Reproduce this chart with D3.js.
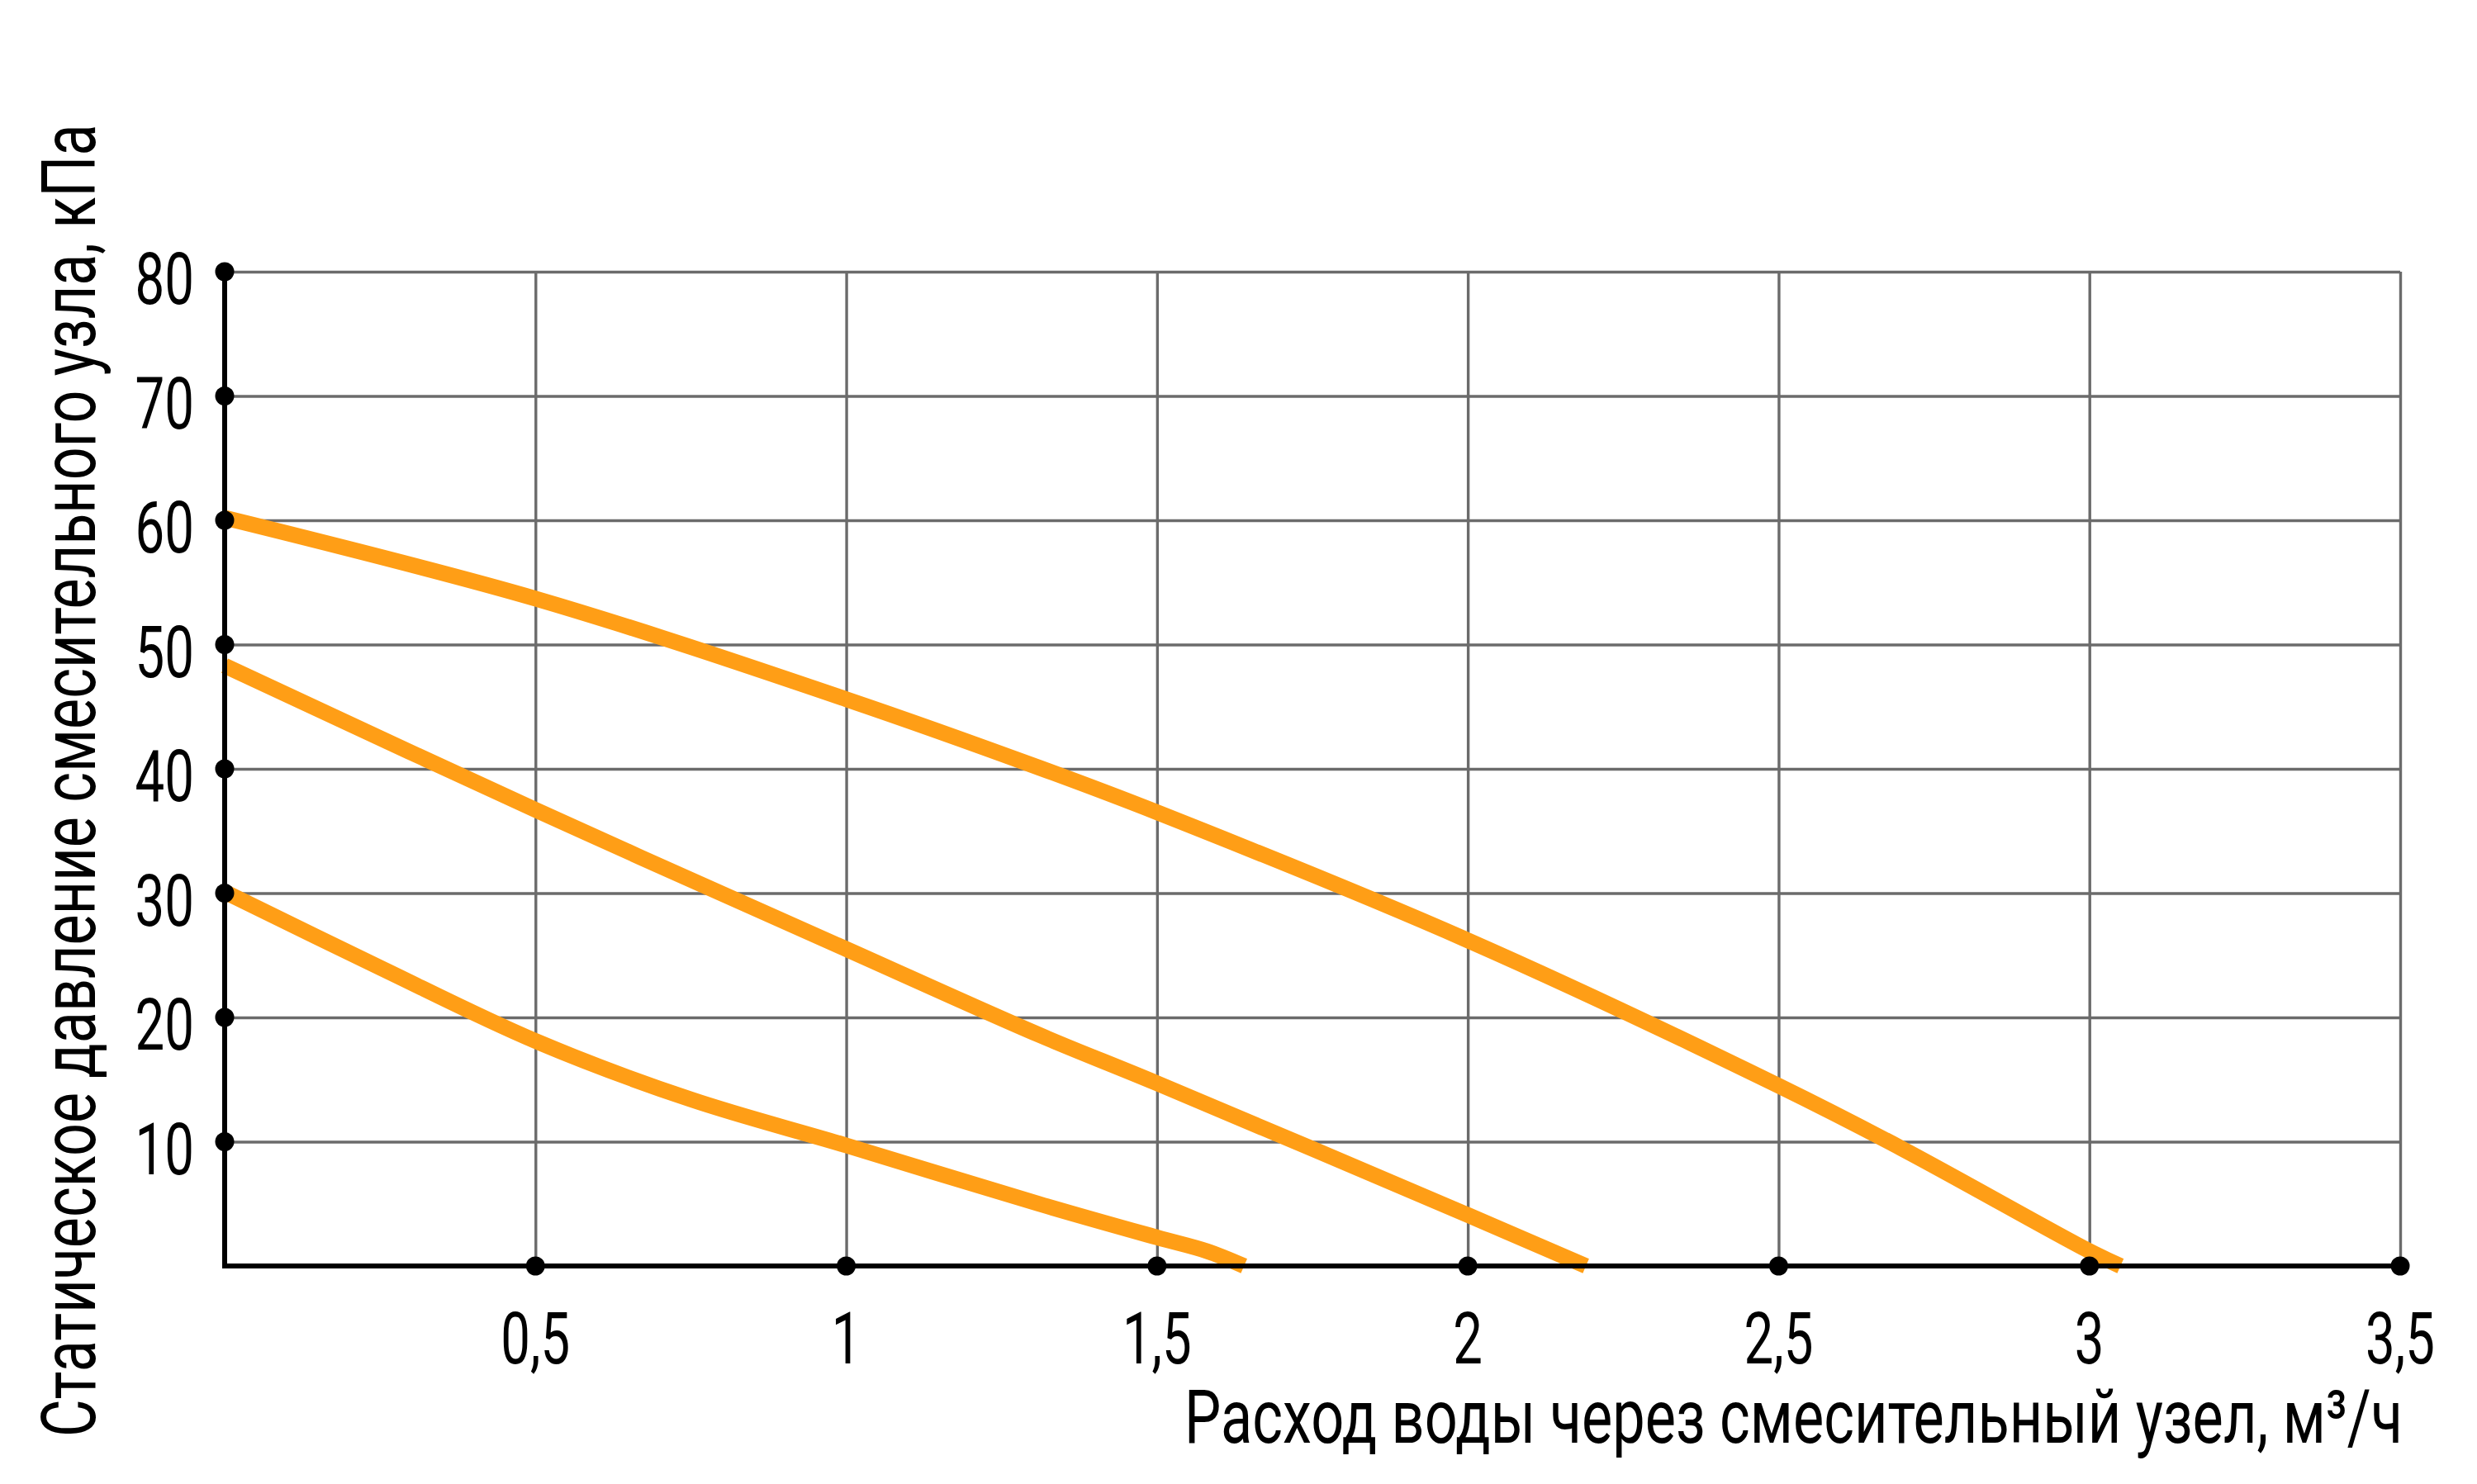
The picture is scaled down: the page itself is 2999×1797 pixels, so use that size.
<!DOCTYPE html>
<html>
<head>
<meta charset="utf-8">
<script src="https://cdn.jsdelivr.net/npm/d3@7"></script>
<style>
  body { margin: 0; background: #fff; }
  svg { display: block; }
</style>
</head>
<body>
<div id="chart"></div>
<script>
// values
const xTicks = [0.5, 1, 1.5, 2, 2.5, 3, 3.5];
const yTicks = [10, 20, 30, 40, 50, 60, 70, 80];
const xTickLabels = ["0,5", "1", "1,5", "2", "2,5", "3", "3,5"];
const yTickLabels = ["10", "20", "30", "40", "50", "60", "70", "80"];

const curveHigh = [[0, 60.2], [0.5, 53.7], [1, 45.6], [1.31, 40.1], [1.5, 36.5], [2, 26.2], [2.5, 14.5], [2.7, 9.4], [3, 1.2], [3.05, 0]];
const curveMid = [[0, 48.3], [0.5, 36.7], [1, 25.5], [1.31, 18.6], [1.5, 14.7], [2, 4.1], [2.19, 0]];
const curveLow = [[0, 30.1], [0.25, 24.0], [0.5, 18.1], [0.75, 13.4], [1, 9.7], [1.31, 5.0], [1.5, 2.3], [1.58, 1.2], [1.64, 0]];

const xTitle = "Расход воды через смесительный узел, м³/ч";
const yTitle = "Статическое давление смесительного узла, кПа";

const drawChart = () => {
    const width = 2999;
    const height = 1797;
    const margin = { top: 329, right: 93, bottom: 264, left: 272 };
    const innerWidth = width - margin.left - margin.right;
    const innerHeight = height - margin.top - margin.bottom;

    const orange = "#FF9E16";
    const gridGrey = "#6b6b6b";
    const font = "Roboto, 'Liberation Sans', sans-serif";
    const squeeze = 0.73;

    const xScale = d3.scaleLinear().domain([0, 3.5]).range([0, innerWidth]);
    const yScale = d3.scaleLinear().domain([0, 80]).range([innerHeight, 0]);

    const svg = d3.select("#chart")
        .append("svg")
        .attr("width", width)
        .attr("height", height)
        .attr("viewBox", `0 0 ${width} ${height}`);

    svg.append("rect").attr("width", width).attr("height", height).attr("fill", "#fff");

    const innerChart = svg.append("g")
        .attr("transform", `translate(${margin.left},${margin.top})`);

    // grid
    const yGrid = innerChart.append("g")
        .call(d3.axisLeft(yScale).tickValues(yTicks).tickSize(-innerWidth).tickFormat(""));
    const xGrid = innerChart.append("g")
        .attr("transform", `translate(0,${innerHeight})`)
        .call(d3.axisBottom(xScale).tickValues(xTicks).tickSize(-innerHeight).tickFormat(""));
    [yGrid, xGrid].forEach(g => {
        g.select(".domain").remove();
        g.selectAll(".tick line")
            .attr("stroke", gridGrey)
            .attr("stroke-width", 3.4);
    });

    // curves
    const lineGenerator = d3.line()
        .x(d => xScale(d[0]))
        .y(d => yScale(d[1]))
        .curve(d3.curveCatmullRom);

    [curveHigh, curveMid, curveLow].forEach((series, i) => {
        innerChart.append("path")
            .attr("class", `curve-${i}`)
            .datum(series)
            .attr("d", lineGenerator)
            .attr("fill", "none")
            .attr("stroke", orange)
            .attr("stroke-width", 19)
            .attr("stroke-linecap", "butt");
    });

    // black axis lines
    innerChart.append("path")
        .attr("d", d3.line()([[xScale(0), yScale(80)], [xScale(0), yScale(0)], [xScale(3.5), yScale(0)]]))
        .attr("fill", "none")
        .attr("stroke", "#000")
        .attr("stroke-width", 6)
        .attr("stroke-linejoin", "miter")
        .attr("stroke-linecap", "square");

    // tick dots
    innerChart.selectAll(".ydot")
        .data(yTicks)
        .join("circle")
            .attr("class", "ydot")
            .attr("cx", xScale(0))
            .attr("cy", d => yScale(d))
            .attr("r", 11.5)
            .attr("fill", "#000");

    innerChart.selectAll(".xdot")
        .data(xTicks)
        .join("circle")
            .attr("class", "xdot")
            .attr("cx", d => xScale(d))
            .attr("cy", yScale(0))
            .attr("r", 11.5)
            .attr("fill", "#000");

    // tick labels
    innerChart.selectAll(".ylabel")
        .data(yTicks)
        .join("text")
            .attr("class", "ylabel")
            .attr("transform", d => `translate(${xScale(0) - 37},${yScale(d) + 39}) scale(${squeeze},1)`)
            .attr("text-anchor", "end")
            .attr("font-family", font)
            .attr("font-size", 87)
            .attr("fill", "#000")
            .text((d, i) => yTickLabels[i]);

    innerChart.selectAll(".xlabel")
        .data(xTicks)
        .join("text")
            .attr("class", "xlabel")
            .attr("transform", d => `translate(${xScale(d)},${innerHeight + 118}) scale(${squeeze},1)`)
            .attr("text-anchor", "middle")
            .attr("font-family", font)
            .attr("font-size", 87)
            .attr("fill", "#000")
            .text((d, i) => xTickLabels[i]);

    // axis titles, squeezed horizontally to the span they take in the picture
    const squeezedTitle = (label, target, place) => {
        const t = svg.append("text")
            .attr("font-family", font)
            .attr("font-size", 90)
            .attr("fill", "#000")
            .text(label);
        const k = target / t.node().getComputedTextLength();
        t.attr("transform", `${place} scale(${k},1)`);
    };

    squeezedTitle(xTitle, 1475, "translate(1434,1747)");
    squeezedTitle(yTitle, 1590, "translate(115,1740) rotate(-90)");
};

drawChart();
</script>
</body>
</html>
